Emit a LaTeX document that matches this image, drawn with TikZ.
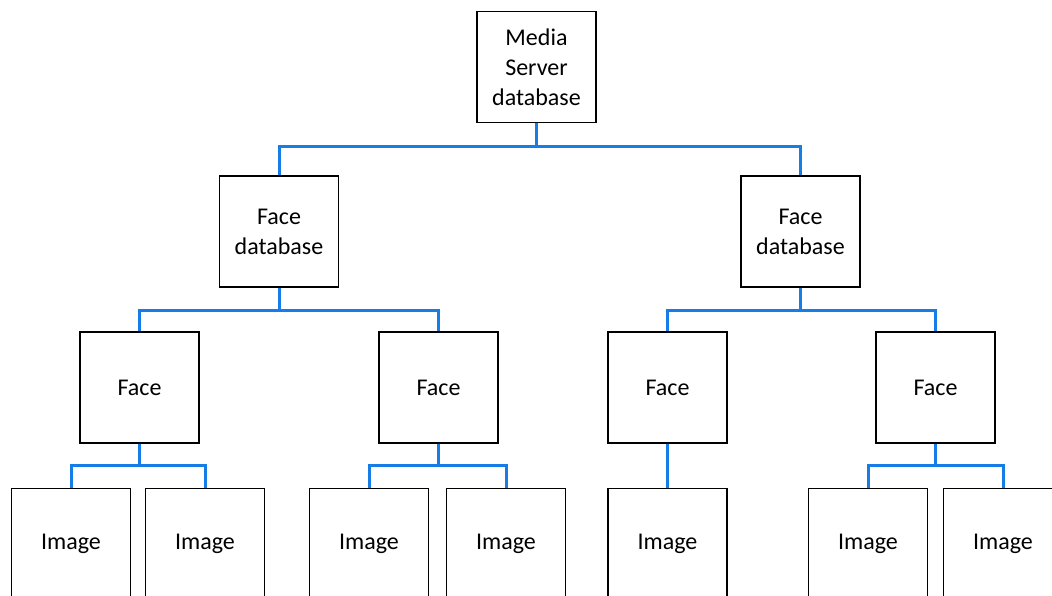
\documentclass[tikz,border=0pt]{standalone}
\usepackage{fontspec}
\setmainfont{Carlito}
\definecolor{linkblue}{RGB}{22,125,230}
\tikzset{
  box/.style={draw=black, line width=1.6pt, fill=white, minimum width=119pt, minimum height=111pt,
    inner sep=0pt, align=center, font=\fontsize{24}{30}\selectfont},
  link/.style={draw=linkblue, line width=3pt}
}
\begin{document}
\begin{tikzpicture}[x=1pt,y=-1pt]
\useasboundingbox (0,0) rectangle (1052,595);
\clip (0,0) rectangle (1052,595);
\node[box] (top) at (536.5,67) {Media\\Server\\database};
\node[box] (fdbL) at (279,231.5) {Face\\database};
\node[box] (fdbR) at (800.5,231.5) {Face\\database};
\node[box] (f1) at (139.5,387.5) {Face};
\node[box] (f2) at (438.5,387.5) {Face};
\node[box] (f3) at (667.5,387.5) {Face};
\node[box] (f4) at (935.5,387.5) {Face};
\node[box] (i1) at (71,544) {Image};
\node[box] (i2) at (205,544) {Image};
\node[box] (i3) at (369,544) {Image};
\node[box] (i4) at (506,544) {Image};
\node[box] (i5) at (667.5,544) {Image};
\node[box] (i6) at (868,544) {Image};
\node[box] (i7) at (1003,544) {Image};
\path[link] (top.south) -- ++(0,23) -| (fdbL.north);
\path[link] (top.south) -- ++(0,23) -| (fdbR.north);
\path[link] (fdbL.south) -- ++(0,22.5) -| (f1.north);
\path[link] (fdbL.south) -- ++(0,22.5) -| (f2.north);
\path[link] (fdbR.south) -- ++(0,22.5) -| (f3.north);
\path[link] (fdbR.south) -- ++(0,22.5) -| (f4.north);
\path[link] (f1.south) -- ++(0,22) -| (i1.north);
\path[link] (f1.south) -- ++(0,22) -| (i2.north);
\path[link] (f2.south) -- ++(0,22) -| (i3.north);
\path[link] (f2.south) -- ++(0,22) -| (i4.north);
\path[link] (f3.south) -- (i5.north);
\path[link] (f4.south) -- ++(0,22) -| (i6.north);
\path[link] (f4.south) -- ++(0,22) -| (i7.north);
\end{tikzpicture}
\end{document}
